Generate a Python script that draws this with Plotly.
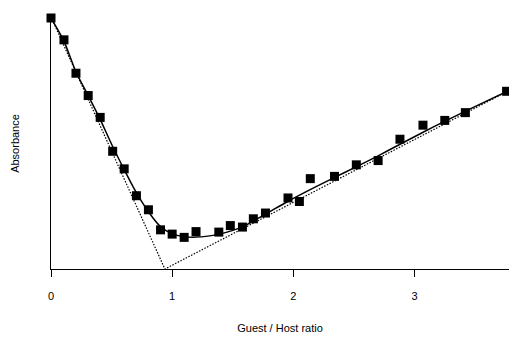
import plotly.graph_objects as go

# Measured data (Guest/Host ratio vs absorbance, arbitrary units)
ratio = [0.0, 0.107, 0.206, 0.307, 0.406, 0.509, 0.604, 0.705, 0.804, 0.904,
         1.0, 1.099, 1.197, 1.385, 1.48, 1.58, 1.67, 1.77, 1.956, 2.05,
         2.14, 2.34, 2.52, 2.70, 2.88, 3.07, 3.25, 3.42, 3.76]
absorbance = [1.0, 0.913, 0.78, 0.691, 0.604, 0.469, 0.399, 0.292, 0.236, 0.156,
              0.139, 0.126, 0.149, 0.147, 0.173, 0.167, 0.200, 0.223, 0.283, 0.269,
              0.36, 0.369, 0.415, 0.432, 0.517, 0.573, 0.592, 0.623, 0.708]

# Fitted curve
fit_x = [0.0, 0.107, 0.206, 0.305, 0.404, 0.503, 0.602, 0.701, 0.800, 0.899,
         0.998, 1.096, 1.195, 1.294, 1.393, 1.583, 1.764, 1.954, 2.143, 2.333,
         2.514, 2.696, 2.877, 3.067, 3.248, 3.421, 3.78]
fit_y = [1.000, 0.908, 0.785, 0.693, 0.598, 0.494, 0.398, 0.307, 0.231, 0.171,
         0.141, 0.129, 0.127, 0.131, 0.139, 0.169, 0.217, 0.269, 0.317, 0.363,
         0.406, 0.450, 0.496, 0.544, 0.588, 0.629, 0.711]

# Tangent (dotted) lines meeting at the equivalence point
tangent_x = [0.0, 0.94, 3.78]
tangent_y = [1.004, 0.0, 0.711]

x_ticks = [0, 1, 2, 3]

fig = go.Figure()
fig.add_trace(go.Scatter(x=tangent_x, y=tangent_y, mode="lines",
                         line=dict(color="black", width=1.2, dash="1.5px,1.5px"),
                         showlegend=False, cliponaxis=False))
fig.add_trace(go.Scatter(x=fit_x, y=fit_y, mode="lines",
                         line=dict(color="black", width=1.5, shape="spline", smoothing=0.6),
                         showlegend=False, cliponaxis=False))
fig.add_trace(go.Scatter(x=ratio, y=absorbance, mode="markers",
                         marker=dict(symbol="square", size=9, color="black"),
                         showlegend=False, cliponaxis=False))

fig.update_layout(
    width=509, height=337,
    margin=dict(l=51, r=0, t=18, b=68),
    paper_bgcolor="white", plot_bgcolor="white",
    font=dict(family="Liberation Sans, Arial, sans-serif", size=11, color="black"),
)
fig.update_xaxes(range=[0, 3.78], tickvals=x_ticks, ticktext=[str(t) for t in x_ticks],
                 showgrid=False, zeroline=False, showline=True, linecolor="black",
                 linewidth=1.2, ticks="outside", ticklen=7, tickcolor="black",
                 ticklabelstandoff=10,
                 tickfont=dict(size=11), automargin=False,
                 title=dict(text="Guest / Host ratio", standoff=23, font=dict(size=11)))
fig.update_yaxes(range=[0, 1.0], showticklabels=False, showgrid=False, zeroline=False,
                 showline=True, linecolor="black", linewidth=1.2, ticks="",
                 automargin=False,
                 title=dict(text="Absorbance", standoff=28, font=dict(size=11)))

fig.write_html("out.html", config={"displayModeBar": False},
               post_script="document.body.style.margin='0';document.body.style.overflow='hidden';")
